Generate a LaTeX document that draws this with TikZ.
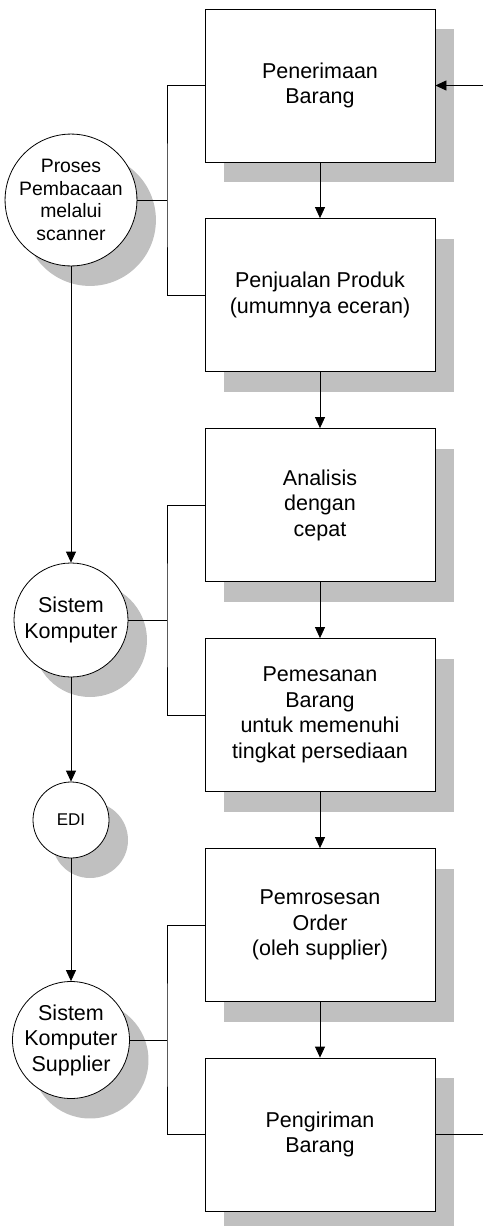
\documentclass[tikz,border=0pt]{standalone}
\usepackage{fontspec}
\setmainfont{Liberation Sans}
\usetikzlibrary{arrows.meta,shadows}
\definecolor{shade}{RGB}{192,192,192}
\begin{document}
\begin{tikzpicture}[x=1pt,y=-1pt,line width=0.8pt,
  shadowed/.style={general shadow={fill=shade,shadow xshift=19pt,shadow yshift=-20pt}},
  procbox/.style={draw,fill=white,shadowed,minimum width=230pt,minimum height=153pt,
    inner sep=0pt,align=center,font=\fontsize{21.5}{25.5}\selectfont},
  circ/.style={draw,fill=white,shadowed,circle,minimum size=114pt,inner sep=0pt,
    align=center,font=\fontsize{21.5}{25.5}\selectfont},
  arr/.style={-{Triangle[length=11pt,width=10pt]}}]
\useasboundingbox (0,0) rectangle (483,1226);

% process boxes
\node[procbox] (b1) at (320,85.5) {Penerimaan\\Barang};
\node[procbox] (b2) at (320,295) {Penjualan Produk\\(umumnya eceran)};
\node[procbox] (b3) at (320,505) {Analisis\\dengan\\cepat};
\node[procbox] (b4) at (320,715) {Pemesanan\\Barang\\untuk memenuhi\\tingkat persediaan};
\node[procbox] (b5) at (320,925) {Pemrosesan\\Order\\(oleh supplier)};
\node[procbox] (b6) at (320,1134.5) {Pengiriman\\Barang};

% systems
\node[circ,font=\fontsize{19.4}{22.7}\selectfont] (c1) at (71,200) {Proses\\Pembacaan\\melalui\\scanner};
\node[circ] (c2) at (71,620) {Sistem\\Komputer};
\node[circ,minimum size=76pt,font=\fontsize{17}{20}\selectfont] (c3) at (71,820) {EDI};
\node[circ] (c4) at (71,1040) {Sistem\\Komputer\\Supplier};

% main flow
\draw[arr] (b1.south) -- (b2.north);
\draw[arr] (b2.south) -- (b3.north);
\draw[arr] (b3.south) -- (b4.north);
\draw[arr] (b4.south) -- (b5.north);
\draw[arr] (b5.south) -- (b6.north);

% system flow
\draw[arr] (c1.south) -- (c2.north);
\draw[arr] (c2.south) -- (c3.north);
\draw[arr] (c3.south) -- (c4.north);

% brackets linking systems to process pairs
\coordinate (k1) at (167,200);
\coordinate (k2) at (167,620);
\coordinate (k3) at (167,1040);
\draw (b1.west) -| (k1) |- (b2.west);
\draw (c1.east) -- (k1);
\draw (b3.west) -| (k2) |- (b4.west);
\draw (c2.east) -- (k2);
\draw (b5.west) -| (k3) |- (b6.west);
\draw (c4.east) -- (k3);

% loop ends
\coordinate (in) at (483,85.5);
\coordinate (out) at (483,1134.5);
\draw[arr] (in) -- (b1.east);
\draw (b6.east) -- (out);
\end{tikzpicture}
\end{document}
